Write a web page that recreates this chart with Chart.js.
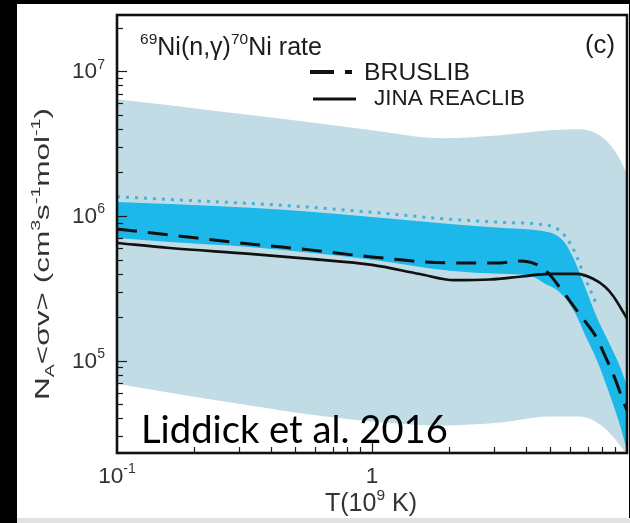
<!DOCTYPE html>
<html>
<head>
<meta charset="utf-8">
<script src="https://cdn.jsdelivr.net/npm/chart.js@4.4.1/dist/chart.umd.min.js"></script>
<style>
  html, body { margin: 0; padding: 0; background: #000; width: 630px; height: 523px; overflow: hidden; }
  #panel { position: absolute; left: 17px; top: 4px; width: 612px; height: 514px; background: #fff; }
  #strip { position: absolute; left: 17px; top: 518px; width: 613px; height: 5px; background: #e2e2e2; }
  canvas { display: block; }
</style>
</head>
<body>
<div id="panel"><canvas id="rate" width="612" height="514"></canvas></div>
<div id="strip"></div>
<script>
// Temperature grid (10^9 K) and rates N_A<sigma v> (cm^3 s^-1 mol^-1)

// wide uncertainty band
const T_WIDE = [0.1, 0.161, 0.332, 0.571, 1.0, 1.88, 3.18, 4.99, 6.55, 7.83, 8.73, 9.39, 10];
const WIDE_HI = [6.41e6, 5.83e6, 4.98e6, 4.45e6, 3.92e6, 3.45e6, 3.62e6, 3.92e6, 3.98e6, 3.60e6, 3.00e6, 2.45e6, 1.95e6];
const WIDE_LO = [6.93e4, 6.01e4, 4.89e4, 4.24e4, 3.80e4, 3.56e4, 3.73e4, 4.11e4, 4.11e4, 3.62e4, 3.04e4, 2.59e4, 2.25e4];

// constrained band
const T_BAND = [0.1, 0.161, 0.332, 0.571, 1.0, 2.02, 3.18, 4.17, 4.77, 5.22, 5.71, 6.25, 6.84, 7.63, 8.58, 9.39, 10];
const BAND_HI = [1.25e6, 1.21e6, 1.14e6, 1.07e6, 9.85e5, 8.80e5, 8.30e5, 8.05e5, 7.80e5, 7.45e5, 6.50e5, 4.85e5, 3.24e5, 1.98e5, 1.29e5, 9.09e4, 6.73e4];
const BAND_LO = [7.05e5, 6.62e5, 6.11e5, 5.56e5, 4.98e5, 4.18e5, 3.98e5, 3.86e5, 3.40e5, 3.14e5, 2.72e5, 2.14e5, 1.51e5, 1.0e5, 5.74e4, 3.56e4, 2.39e4];

// dotted upper limit
const T_UPPER = [0.1, 0.161, 0.332, 0.571, 1.0, 2.02, 3.18, 4.56, 5.22, 5.71, 6.25, 6.84, 7.55];
const UPPER = [1.36e6, 1.30e6, 1.22e6, 1.15e6, 1.06e6, 9.50e5, 9.05e5, 8.75e5, 8.30e5, 7.30e5, 5.60e5, 3.75e5, 2.51e5];

// BRUSLIB
const T_BRUS = [0.1, 0.161, 0.332, 0.571, 1.0, 2.02, 3.18, 3.80, 4.36, 4.90, 5.46, 6.08, 6.72, 7.55, 8.20, 8.97, 9.65, 10];
const BRUSLIB = [8.13e5, 7.40e5, 6.41e5, 5.83e5, 5.21e5, 4.74e5, 4.74e5, 4.89e5, 4.67e5, 4.05e5, 3.19e5, 2.47e5, 1.95e5, 1.47e5, 1.08e5, 7.52e4, 5.30e4, 4.52e4];

// JINA REACLIB
const T_JINA = [0.1, 0.161, 0.332, 0.571, 1.0, 1.54, 2.10, 2.90, 3.87, 4.99, 6.37, 7.36, 8.20, 8.81, 9.39, 10];
const JINA = [6.51e5, 6.01e5, 5.47e5, 5.05e5, 4.59e5, 3.97e5, 3.60e5, 3.64e5, 3.82e5, 3.98e5, 3.98e5, 3.68e5, 3.24e5, 2.81e5, 2.36e5, 1.95e5];

// axes
const X_RANGE = [0.1, 10];
const Y_RANGE = [2.3e4, 2.45e7];
const Y_TICKS = [1e5, 1e6, 1e7];
const Y_TICK_EXP = ['5', '6', '7'];
const X_TICKS = [0.1, 1];
const X_TICK_LABELS = [[['10', ''], ['-1', 'sup']], [['1', '']]];

const SANS = '"Liberation Sans", Arial, sans-serif';
const INK = '#1c1c1c';

const pts = (xs, ys) => xs.map((x, i) => ({ x, y: ys[i] }));

function richWidth(ctx, parts, size, family) {
  let w = 0;
  for (const [t, k] of parts) {
    ctx.font = `${k ? size * 0.62 : size}px ${family}`;
    w += ctx.measureText(t).width;
  }
  return w;
}

// draws a run of normal / superscript / subscript text.
// size only: natural width; width only: size fitted; both: glyphs stretched along the run
function drawRich(ctx, parts, opt) {
  const family = opt.family || SANS;
  let size = opt.size;
  if (!size) size = 20 * opt.width / richWidth(ctx, parts, 20, family);
  const natural = richWidth(ctx, parts, size, family);
  const stretch = opt.size && opt.width ? opt.width / natural : 1;
  const w = natural * stretch;
  ctx.save();
  ctx.translate(opt.x, opt.y);
  if (opt.rotate) ctx.rotate(opt.rotate);
  ctx.translate(opt.align === 'center' ? -w / 2 : opt.align === 'right' ? -w : 0, 0);
  ctx.scale(stretch, 1);
  let x = 0;
  ctx.fillStyle = opt.color || INK;
  ctx.textAlign = 'left';
  ctx.textBaseline = 'alphabetic';
  for (const [t, k] of parts) {
    const s = k ? size * 0.62 : size;
    ctx.font = `${s}px ${family}`;
    const dy = k === 'sup' ? -size * 0.42 : k === 'sub' ? size * 0.24 : 0;
    ctx.fillText(t, x, dy);
    x += ctx.measureText(t).width;
  }
  ctx.restore();
  return size;
}

const decorations = {
  id: 'decorations',
  afterDatasetsDraw(chart) {
    const { ctx, chartArea: a, scales: { x, y } } = chart;
    ctx.save();

    // inward ticks
    ctx.strokeStyle = INK;
    ctx.lineWidth = 1.2;
    for (let e = 4; e <= 7; e++) {
      for (let k = 1; k <= 9; k++) {
        const v = k * Math.pow(10, e);
        if (v < y.min || v > y.max) continue;
        const py = Math.round(y.getPixelForValue(v)) + 0.5;
        const len = k === 1 ? 10 : 6;
        ctx.beginPath(); ctx.moveTo(a.left, py); ctx.lineTo(a.left + len, py); ctx.stroke();
      }
    }
    for (let e = -1; e <= 0; e++) {
      for (let k = 1; k <= 9; k++) {
        const v = k * Math.pow(10, e);
        if (v <= x.min || v >= x.max) continue;
        const px = Math.round(x.getPixelForValue(v)) + 0.5;
        const len = k === 1 ? 10 : 6;
        ctx.beginPath(); ctx.moveTo(px, a.bottom); ctx.lineTo(px, a.bottom - len); ctx.stroke();
      }
    }

    // frame
    ctx.lineWidth = 2.6;
    ctx.strokeStyle = '#111';
    ctx.strokeRect(a.left, a.top, a.right - a.left, a.bottom - a.top);

    // tick labels
    const tickSize = drawRich(ctx, [['10', ''], [Y_TICK_EXP[2], 'sup']],
      { x: 88, y: y.getPixelForValue(Y_TICKS[2]) + 7, width: 33, align: 'right', color: '#333' });
    for (let i = 0; i < 2; i++) {
      drawRich(ctx, [['10', ''], [Y_TICK_EXP[i], 'sup']],
        { x: 88, y: y.getPixelForValue(Y_TICKS[i]) + 7, size: tickSize, align: 'right', color: '#333' });
    }
    X_TICKS.forEach((v, i) => {
      drawRich(ctx, X_TICK_LABELS[i], { x: x.getPixelForValue(v), y: 479, size: tickSize, align: 'center', color: '#333' });
    });

    // axis titles
    drawRich(ctx, [['T(10', ''], ['9', 'sup'], [' K)', '']], { x: 354, y: 507, width: 92, align: 'center', color: '#333' });
    drawRich(ctx, [['N', ''], ['A', 'sub'], ['<σv> (cm', ''], ['3', 'sup'], ['s', ''], ['-1', 'sup'],
      ['mol', ''], ['-1', 'sup'], [')', '']],
      { x: 32, y: 250, size: 21, width: 292, align: 'center', rotate: -Math.PI / 2, color: '#333' });

    // reaction label and panel tag
    drawRich(ctx, [['69', 'sup'], ['Ni(n,γ)', ''], ['70', 'sup'], ['Ni rate', '']], { x: 123, y: 51, width: 182, align: 'left' });
    drawRich(ctx, [['(c)', '']], { x: 598, y: 49, width: 30, align: 'right' });

    // legend
    ctx.strokeStyle = '#111';
    ctx.lineCap = 'butt';
    ctx.lineWidth = 4;
    ctx.beginPath(); ctx.moveTo(293, 68); ctx.lineTo(317, 68); ctx.stroke();
    ctx.beginPath(); ctx.moveTo(328, 68); ctx.lineTo(335, 68); ctx.stroke();
    ctx.lineWidth = 3;
    ctx.beginPath(); ctx.moveTo(296, 95); ctx.lineTo(339, 95); ctx.stroke();
    drawRich(ctx, [['BRUSLIB', '']], { x: 347, y: 76, width: 106, align: 'left' });
    drawRich(ctx, [['JINA REACLIB', '']], { x: 357, y: 101, width: 151, align: 'left' });

    // citation
    drawRich(ctx, [['Liddick et al. 2016', '']], { x: 124, y: 439, width: 307, align: 'left', family: 'Lato, "Open Sans", sans-serif', color: '#000' });

    ctx.restore();
  }
};

const lineBase = { pointRadius: 0, pointHoverRadius: 0, fill: false, cubicInterpolationMode: 'monotone' };

new Chart(document.getElementById('rate'), {
  type: 'line',
  data: {
    datasets: [
      { ...lineBase, label: 'BRUSLIB', data: pts(T_BRUS, BRUSLIB), borderColor: '#111', borderWidth: 3, borderDash: [20, 11], order: 1 },
      { ...lineBase, label: 'JINA REACLIB', data: pts(T_JINA, JINA), borderColor: '#111', borderWidth: 2.6, order: 1 },
      { ...lineBase, label: 'upper', data: pts(T_UPPER, UPPER), borderColor: 'rgb(70,176,216)', borderWidth: 3, borderDash: [3, 6], order: 1 },
      { ...lineBase, label: 'band hi', data: pts(T_BAND, BAND_HI), borderWidth: 0, backgroundColor: 'rgb(28,184,234)', fill: '+1', order: 5 },
      { ...lineBase, label: 'band lo', data: pts(T_BAND, BAND_LO), borderWidth: 0, order: 5 },
      { ...lineBase, label: 'wide hi', data: pts(T_WIDE, WIDE_HI), borderWidth: 0, backgroundColor: 'rgb(194,220,230)', fill: '+1', order: 10 },
      { ...lineBase, label: 'wide lo', data: pts(T_WIDE, WIDE_LO), borderWidth: 0, order: 10 }
    ]
  },
  options: {
    responsive: false,
    animation: false,
    devicePixelRatio: 1,
    layout: { padding: { left: 0, right: 2, top: 11, bottom: 0 } },
    plugins: {
      legend: { display: false },
      tooltip: { enabled: false },
      filler: { drawTime: 'beforeDatasetsDraw' }
    },
    scales: {
      x: {
        type: 'logarithmic', min: X_RANGE[0], max: X_RANGE[1],
        grid: { display: false }, border: { display: false }, ticks: { display: false },
        afterFit(s) { s.height = 65; }
      },
      y: {
        type: 'logarithmic', min: Y_RANGE[0], max: Y_RANGE[1],
        grid: { display: false }, border: { display: false }, ticks: { display: false },
        afterFit(s) { s.width = 100; }
      }
    }
  },
  plugins: [decorations]
});
</script>
</body>
</html>
